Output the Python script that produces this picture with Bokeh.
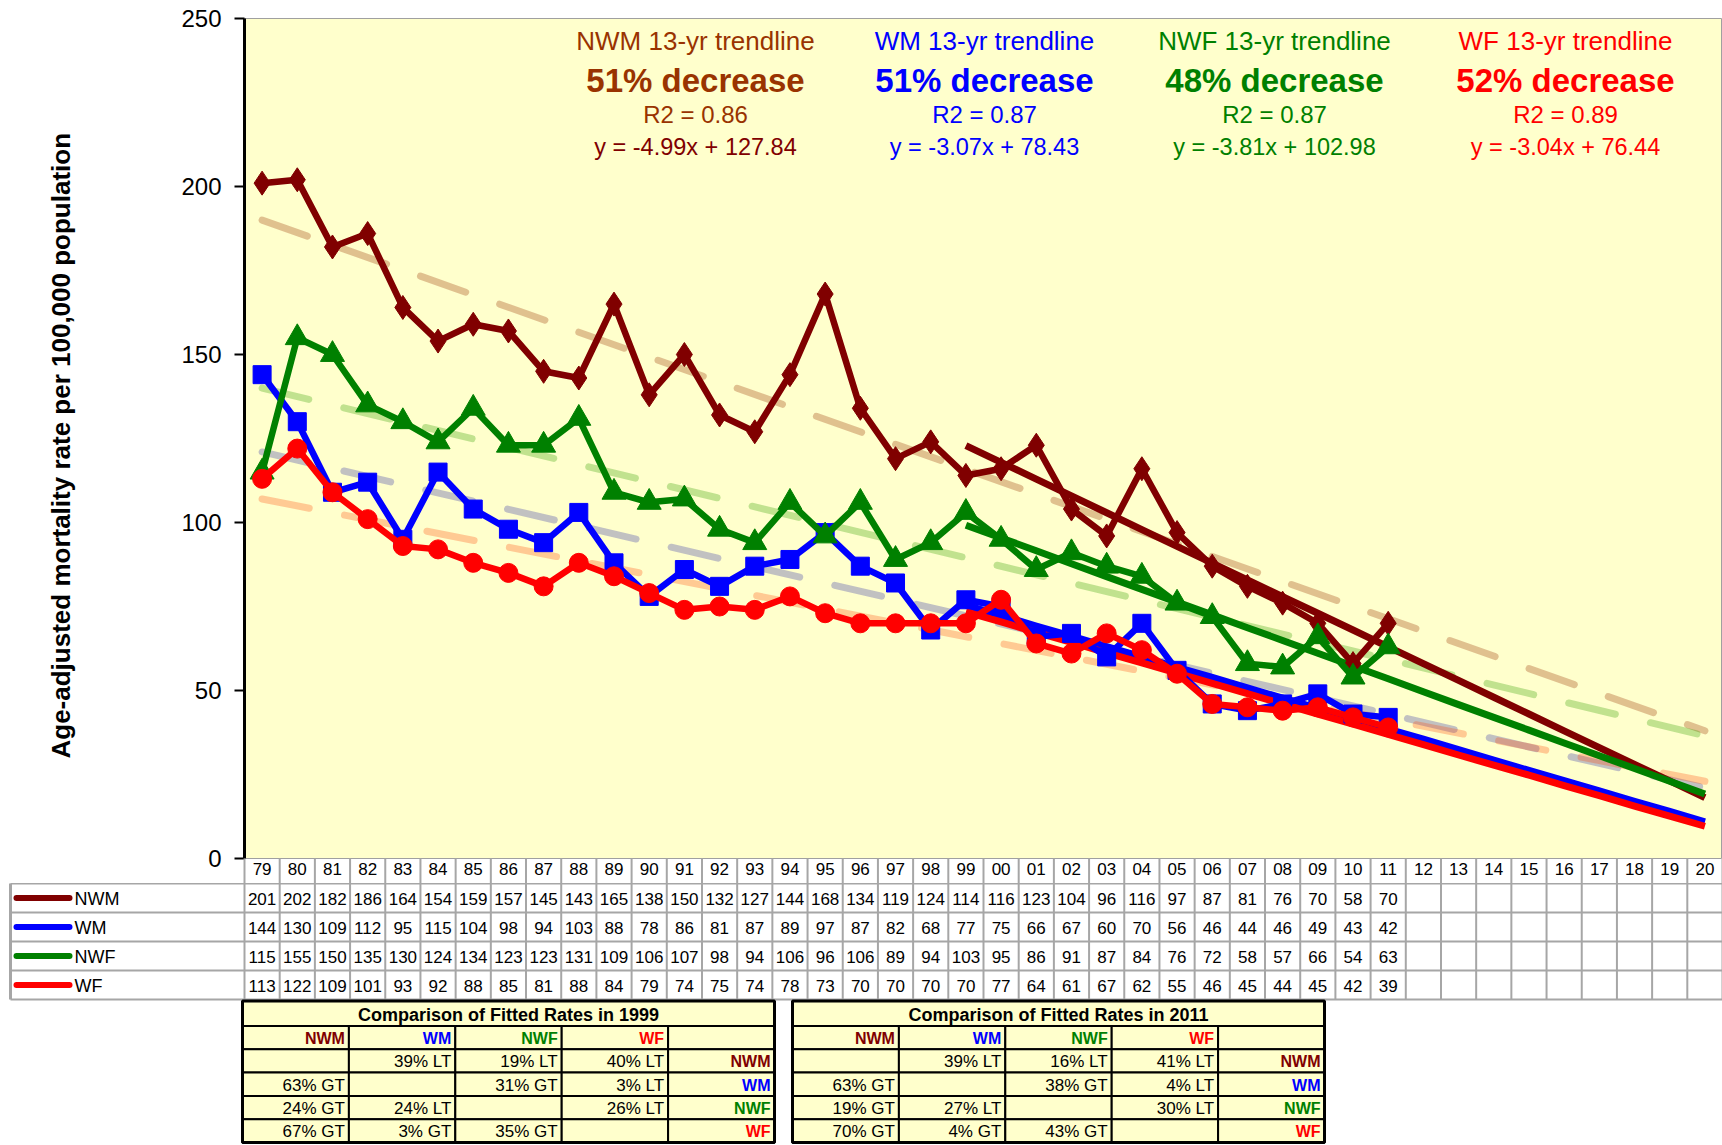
from bokeh.plotting import figure
from bokeh.models import Range1d, FixedTicker, Label
from bokeh.layouts import column
from bokeh.embed import file_html
from bokeh.resources import INLINE
from bokeh.core.properties import value

# ---------------- data ----------------
years = ["79", "80", "81", "82", "83", "84", "85", "86", "87", "88", "89", "90", "91", "92",
         "93", "94", "95", "96", "97", "98", "99", "00", "01", "02", "03", "04", "05", "06",
         "07", "08", "09", "10", "11", "12", "13", "14", "15", "16", "17", "18", "19", "20"]
series_names = ["NWM", "WM", "NWF", "WF"]
nwm = [201, 202, 182, 186, 164, 154, 159, 157, 145, 143, 165, 138, 150, 132, 127, 144, 168,
       134, 119, 124, 114, 116, 123, 104, 96, 116, 97, 87, 81, 76, 70, 58, 70]
wm = [144, 130, 109, 112, 95, 115, 104, 98, 94, 103, 88, 78, 86, 81, 87, 89, 97, 87, 82, 68,
      77, 75, 66, 67, 60, 70, 56, 46, 44, 46, 49, 43, 42]
nwf = [115, 155, 150, 135, 130, 124, 134, 123, 123, 131, 109, 106, 107, 98, 94, 106, 96, 106,
       89, 94, 103, 95, 86, 91, 87, 84, 76, 72, 58, 57, 66, 54, 63]
wf = [113, 122, 109, 101, 93, 92, 88, 85, 81, 88, 84, 79, 74, 75, 74, 78, 73, 70, 70, 70, 70,
      77, 64, 61, 67, 62, 55, 46, 45, 44, 45, 42, 39]

# 13-yr fitted trendlines, 1999..2020
trend_years = ["99", "00", "01", "02", "03", "04", "05", "06", "07", "08", "09", "10", "11",
               "12", "13", "14", "15", "16", "17", "18", "19", "20"]
nwm_trend = [122.9, 117.9, 112.9, 107.9, 102.9, 97.9, 92.9, 87.9, 82.9, 77.9, 73.0, 68.0, 63.0,
             58.0, 53.0, 48.0, 43.0, 38.0, 33.0, 28.0, 23.1, 18.1]
wm_trend = [75.4, 72.3, 69.2, 66.2, 63.1, 60.0, 56.9, 53.9, 50.8, 47.7, 44.7, 41.6, 38.5, 35.5,
            32.4, 29.3, 26.2, 23.2, 20.1, 17.0, 14.0, 10.9]
nwf_trend = [99.2, 95.4, 91.6, 87.7, 83.9, 80.1, 76.3, 72.5, 68.7, 64.9, 61.1, 57.3, 53.5, 49.6,
             45.8, 42.0, 38.2, 34.4, 30.6, 26.8, 23.0, 19.2]
wf_trend = [73.4, 70.4, 67.3, 64.3, 61.2, 58.2, 55.2, 52.1, 49.1, 46.0, 43.0, 40.0, 36.9, 33.9,
            30.8, 27.8, 24.8, 21.7, 18.7, 15.6, 12.6, 9.6]

# faint long-term (dashed) trendlines, 1979..2020
long_years = ["79", "20"]
nwm_long = [190, 38]
wm_long = [121, 21]
nwf_long = [140, 36.5]
wf_long = [107, 23]

trend_titles = ["NWM 13-yr trendline", "WM 13-yr trendline", "NWF 13-yr trendline", "WF 13-yr trendline"]
trend_decrease = ["51% decrease", "51% decrease", "48% decrease", "52% decrease"]
trend_r2 = ["R2 = 0.86", "R2 = 0.87", "R2 = 0.87", "R2 = 0.89"]
trend_eq = ["y = -4.99x + 127.84", "y = -3.07x + 78.43", "y = -3.81x + 102.98", "y = -3.04x + 76.44"]

y_ticks = [0, 50, 100, 150, 200, 250]

cmp_1999_title = "Comparison of Fitted Rates in 1999"
cmp_1999 = [["", "39% LT", "19% LT", "40% LT"],
            ["63% GT", "", "31% GT", "3% LT"],
            ["24% GT", "24% LT", "", "26% LT"],
            ["67% GT", "3% GT", "35% GT", ""]]
cmp_2011_title = "Comparison of Fitted Rates in 2011"
cmp_2011 = [["", "39% LT", "16% LT", "41% LT"],
            ["63% GT", "", "38% GT", "4% LT"],
            ["19% GT", "27% LT", "", "30% LT"],
            ["70% GT", "4% GT", "43% GT", ""]]

# ---------------- styles ----------------
colors = ["#800000", "#0000FF", "#008000", "#FF0000"]
head_colors = ["#993300", "#0000FF", "#008000", "#FF0000"]
eq_colors = ["#800000", "#0000FF", "#008000", "#FF0000"]
long_colors = ["#993300", "#3333AA", "#33A000", "#FF5010"]
markers = ["diamond", "square", "triangle", "circle"]
msizes = [24, 18, 24, 19]
values = [nwm, wm, nwf, wf]
trends = [nwm_trend, wm_trend, nwf_trend, wf_trend]
longs = [nwm_long, wm_long, nwf_long, wf_long]

FW = 1722
LEFT = 244
TOP = 18
FRAME_H = 840
FRAME_W = FW - LEFT
YR_H = 25
FONT = "Liberation Sans"
GRID = "#A6A6A6"


def xpos(labels):
    return [years.index(s) + 0.5 for s in labels]


# ---------------- main chart ----------------
pA = figure(width=FW, height=TOP + FRAME_H + YR_H,
            x_range=Range1d(0, len(years)), y_range=Range1d(0, 250),
            output_backend="svg", toolbar_location=None,
            min_border_left=LEFT, min_border_right=0, min_border_top=TOP, min_border_bottom=YR_H,
            background_fill_color="#FFFFCC", border_fill_color="white",
            outline_line_color="#A0A0A0", outline_line_width=1)
pA.xgrid.visible = False
pA.ygrid.visible = False
ax = pA.yaxis[0]
ax.ticker = FixedTicker(ticks=y_ticks)
ax.minor_tick_line_color = None
ax.major_tick_in = 0
ax.major_tick_out = 10
ax.major_tick_line_width = 2
ax.axis_line_width = 3
ax.axis_line_color = "black"
ax.major_label_standoff = 13
ax.major_label_text_font = FONT
ax.major_label_text_font_size = "24px"
ax.major_label_text_color = "black"
ax.axis_label = "Age-adjusted  mortality rate per 100,000  population"
ax.axis_label_text_font = FONT
ax.axis_label_text_font_style = "bold"
ax.axis_label_text_font_size = "26px"
ax.axis_label_text_color = "black"
ax.axis_label_standoff = 102

xa = pA.xaxis[0]
xa.ticker = FixedTicker(ticks=xpos(years))
xa.major_label_overrides = {years.index(s) + 0.5: s for s in years}
xa.axis_line_color = None
xa.major_tick_line_color = None
xa.minor_tick_line_color = None
xa.major_tick_out = 0
xa.major_tick_in = 0
xa.major_label_standoff = 4
xa.major_label_text_font = FONT
xa.major_label_text_font_size = "17px"
xa.major_label_text_color = "black"

# year-row cell separators (below the plot frame)
edges = list(range(len(years) + 1))
yr_units = YR_H * 250 / FRAME_H
pA.segment(x0=edges, y0=[0] * len(edges), x1=edges, y1=[-yr_units] * len(edges),
           line_color=GRID, line_width=2, level="overlay")

for k in range(4):
    pA.line(xpos(long_years), longs[k], line_color=long_colors[k], line_alpha=0.3, line_width=7,
            line_dash="48 36", line_cap="round")
for k in range(4):
    pA.line(xpos(trend_years), trends[k], line_color=colors[k], line_width=7, line_join="round")
for k in range(4):
    xs = xpos(years[:len(values[k])])
    pA.line(xs, values[k], line_color=colors[k], line_width=6.5, line_join="round")
    pA.scatter(xs, values[k], marker=markers[k], size=msizes[k], fill_color=colors[k],
               line_color=colors[k])

centers = [451, 740, 1030, 1321]
rows_y = [818, 778, 744, 712]
for k in range(4):
    cx = centers[k]
    pA.add_layout(Label(x=cx, y=rows_y[0], x_units="screen", y_units="screen", text=trend_titles[k],
                        text_align="center", text_baseline="middle", text_font=FONT,
                        text_font_size="26px", text_color=head_colors[k]))
    pA.add_layout(Label(x=cx, y=rows_y[1], x_units="screen", y_units="screen", text=trend_decrease[k],
                        text_align="center", text_baseline="middle", text_font=FONT,
                        text_font_style="bold", text_font_size="33px", text_color=head_colors[k]))
    pA.add_layout(Label(x=cx, y=rows_y[2], x_units="screen", y_units="screen", text=trend_r2[k],
                        text_align="center", text_baseline="middle", text_font=FONT,
                        text_font_size="24px", text_color=head_colors[k]))
    pA.add_layout(Label(x=cx, y=rows_y[3], x_units="screen", y_units="screen", text=trend_eq[k],
                        text_align="center", text_baseline="middle", text_font=FONT,
                        text_font_size="23.5px", text_color=eq_colors[k]))

# ---------------- tables (pixel coordinates, x=0 at the plot frame's left edge) ----------------
HB = 1144 - (TOP + FRAME_H + YR_H)
pB = figure(width=FW, height=HB, x_range=Range1d(0, FRAME_W), y_range=Range1d(HB, 0),
            output_backend="svg", toolbar_location=None, x_axis_location=None,
            y_axis_location=None, min_border_left=LEFT, min_border_right=0,
            min_border_top=0, min_border_bottom=0, outline_line_color=None,
            background_fill_color="white", border_fill_color="white")
pB.grid.visible = False

n = len(years)
band = FRAME_W / n
xc = [band * (i + 0.5) for i in range(n)]
ROW_H = 29
tab_bottom = ROW_H * 4
LEG_L = 10 - LEFT

vx = [band * i for i in range(n + 1)]
pB.segment(x0=vx, y0=[0] * len(vx), x1=vx, y1=[tab_bottom] * len(vx), line_color=GRID,
           line_width=2, level="overlay")
hy = [ROW_H * k for k in range(5)]
pB.segment(x0=[LEG_L] * 5, y0=hy, x1=[FRAME_W] * 5, y1=hy, line_color=GRID, line_width=2,
           level="overlay")
pB.segment(x0=[LEG_L], y0=[0], x1=[LEG_L], y1=[tab_bottom], line_color=GRID, line_width=3,
           level="overlay")

for k in range(4):
    vals = values[k]
    yk = ROW_H * (k + 0.5) + 1
    pB.text(x=xc[:len(vals)], y=[yk] * len(vals), text=[str(v) for v in vals],
            text_align="center", text_baseline="middle", text_font=value(FONT),
            text_font_size="17px", text_color="black", level="overlay")
    pB.line([16 - LEFT, 69 - LEFT], [yk - 1, yk - 1], line_color=colors[k], line_width=6,
            line_cap="round", level="overlay")
    pB.scatter([42 - LEFT], [yk - 1], marker=markers[k], size=msizes[k] * 0.62,
               fill_color=colors[k], line_color=colors[k], level="overlay")
    pB.text(x=[74 - LEFT], y=[yk], text=[series_names[k]], text_align="left",
            text_baseline="middle", text_font=value(FONT), text_font_size="18px",
            text_color="black", level="overlay")

CMP_TOP = tab_bottom + 1.5
TITLE_H = 25
CROW_H = 23.3
CMP_W = 532


def draw_cmp(xl, title, cells):
    cw = CMP_W / 5
    lefts, rights, tops, bottoms = [], [], [], []
    for r in range(5):
        for c in range(5):
            lefts.append(xl + cw * c)
            rights.append(xl + cw * (c + 1))
            tops.append(CMP_TOP + TITLE_H + CROW_H * r)
            bottoms.append(CMP_TOP + TITLE_H + CROW_H * (r + 1))
    lefts.append(xl)
    rights.append(xl + CMP_W)
    tops.append(CMP_TOP)
    bottoms.append(CMP_TOP + TITLE_H)
    pB.quad(left=lefts, right=rights, top=tops, bottom=bottoms, fill_color="#FFFFCC",
            line_color="black", line_width=2, level="overlay")
    pB.quad(left=[xl], right=[xl + CMP_W], top=[CMP_TOP], bottom=[CMP_TOP + TITLE_H + CROW_H * 5],
            fill_alpha=0, line_color="black", line_width=3, level="overlay")
    pB.text(x=[xl + CMP_W / 2], y=[CMP_TOP + TITLE_H / 2 + 1], text=[title], text_align="center",
            text_baseline="middle", text_font=value(FONT), text_font_style="bold",
            text_font_size="18px", text_color="black", level="overlay")
    hx = [xl + cw * (c + 1) - 4 for c in range(4)]
    hy_ = [CMP_TOP + TITLE_H + CROW_H / 2 + 1] * 4
    pB.text(x=hx, y=hy_, text=series_names, text_align="right", text_baseline="middle",
            text_font=value(FONT), text_font_style="bold", text_font_size="16px",
            text_color=colors, level="overlay")
    for r in range(4):
        yy = CMP_TOP + TITLE_H + CROW_H * (r + 1.5) + 1
        pB.text(x=hx, y=[yy] * 4, text=cells[r], text_align="right", text_baseline="middle",
                text_font=value(FONT), text_font_size="17px", text_color="black",
                level="overlay")
        pB.text(x=[xl + CMP_W - 4], y=[yy], text=[series_names[r]], text_align="right",
                text_baseline="middle", text_font=value(FONT), text_font_style="bold",
                text_font_size="16px", text_color=colors[r], level="overlay")


draw_cmp(242 - LEFT, cmp_1999_title, cmp_1999)
draw_cmp(792 - LEFT, cmp_2011_title, cmp_2011)

layout = column(pA, pB, spacing=0)
open("out.html", "w").write(file_html(layout, INLINE))
